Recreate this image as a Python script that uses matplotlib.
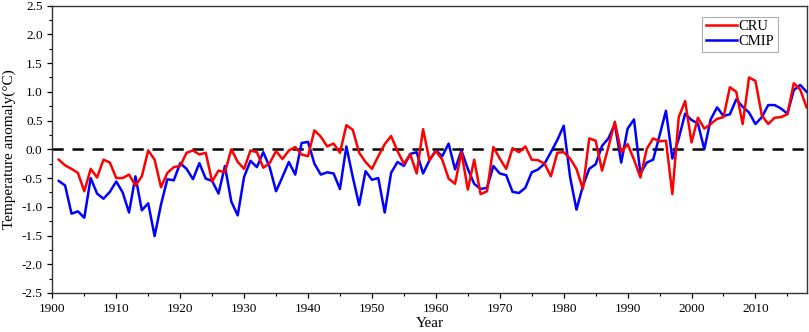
import matplotlib
matplotlib.use("Agg")
import matplotlib.pyplot as plt
from matplotlib.ticker import MultipleLocator

plt.rcParams['font.family'] = ['Liberation Serif', 'DejaVu Serif']

years = list(range(1901, 2019))

cru = [
    -0.18, -0.28, -0.34, -0.41, -0.73, -0.34, -0.49, -0.18, -0.23, -0.50,
    -0.50, -0.44, -0.63, -0.47, -0.02, -0.18, -0.66, -0.41, -0.31, -0.29,
    -0.06, -0.02, -0.09, -0.06, -0.56, -0.37, -0.40, 0.00, -0.22, -0.34,
    -0.02, -0.05, -0.32, -0.24, -0.03, -0.17, -0.02, 0.04, -0.09, -0.12,
    0.33, 0.22, 0.05, 0.10, -0.06, 0.42, 0.34, -0.06, -0.22, -0.34,
    -0.12, 0.09, 0.23, -0.03, -0.25, -0.09, -0.42, 0.35, -0.19, -0.03,
    -0.18, -0.51, -0.60, -0.05, -0.70, -0.18, -0.78, -0.73, 0.04, -0.16,
    -0.34, 0.02, -0.05, 0.05, -0.18, -0.19, -0.25, -0.47, -0.06, -0.05,
    -0.16, -0.34, -0.69, 0.19, 0.15, -0.37, 0.04, 0.48, -0.05, 0.09,
    -0.18, -0.49, 0.01, 0.19, 0.14, 0.15, -0.78, 0.56, 0.84, 0.12,
    0.55, 0.36, 0.44, 0.53, 0.56, 1.08, 1.00, 0.44, 1.25, 1.19,
    0.59, 0.44, 0.55, 0.56, 0.61, 1.15, 1.04, 0.73,
]

cmip = [
    -0.55, -0.63, -1.12, -1.08, -1.19, -0.50, -0.77, -0.86, -0.74, -0.56,
    -0.75, -1.10, -0.47, -1.06, -0.94, -1.51, -0.96, -0.52, -0.54, -0.24,
    -0.34, -0.52, -0.24, -0.51, -0.55, -0.77, -0.29, -0.91, -1.15, -0.48,
    -0.20, -0.31, -0.05, -0.31, -0.73, -0.48, -0.22, -0.44, 0.11, 0.13,
    -0.25, -0.44, -0.40, -0.42, -0.69, 0.05, -0.48, -0.97, -0.38, -0.53,
    -0.50, -1.10, -0.41, -0.22, -0.29, -0.08, -0.05, -0.42, -0.19, -0.02,
    -0.12, 0.10, -0.35, -0.02, -0.34, -0.60, -0.69, -0.67, -0.29, -0.42,
    -0.45, -0.74, -0.76, -0.67, -0.40, -0.35, -0.25, -0.05, 0.16, 0.41,
    -0.48, -1.05, -0.64, -0.34, -0.26, 0.06, 0.19, 0.44, -0.23, 0.36,
    0.52, -0.42, -0.23, -0.18, 0.24, 0.67, -0.16, 0.19, 0.62, 0.51,
    0.45, 0.00, 0.52, 0.73, 0.58, 0.61, 0.87, 0.74, 0.64, 0.44,
    0.56, 0.77, 0.77, 0.71, 0.62, 1.03, 1.12, 1.00,
]

fig = plt.figure(figsize=(8.09, 3.32), dpi=100)
ax = fig.add_axes([0.0647, 0.1175, 0.9323, 0.8655])

ax.axhline(0, color='black', lw=1.8, ls=(0, (4.5, 3.5)), zorder=1)
ax.plot(years, cru, color='#ff0000', lw=1.8, label='CRU', zorder=3)
ax.plot(years, cmip, color='#0000ff', lw=1.8, label='CMIP', zorder=2)

ax.set_xlim(1900, 2018)
ax.set_ylim(-2.5, 2.5)
ax.xaxis.set_major_locator(MultipleLocator(10))
ax.xaxis.set_minor_locator(MultipleLocator(5))
ax.yaxis.set_major_locator(MultipleLocator(0.5))
ax.yaxis.set_minor_locator(MultipleLocator(0.25))
ax.yaxis.set_major_formatter(matplotlib.ticker.FormatStrFormatter('%.1f'))
ax.tick_params(which='major', direction='out', length=3.5, width=0.9, labelsize=9.5)
ax.tick_params(which='minor', direction='out', length=2, width=0.8)

for s in ax.spines.values():
    s.set_linewidth(1.0)
    s.set_color('#333333')

ax.set_xlabel('Year', fontsize=11, labelpad=2)
ax.set_ylabel('Temperature anomaly(\u00b0C)', fontsize=11, labelpad=4)

leg = ax.legend(loc='upper right', bbox_to_anchor=(0.9616, 0.962), fontsize=10.5,
                frameon=True, fancybox=False, handlelength=2.1, handletextpad=0.1,
                borderpad=0.25, labelspacing=0.1, borderaxespad=0.0)
leg.get_frame().set_edgecolor('#999999')
leg.get_frame().set_linewidth(0.8)

fig.savefig('out.png', dpi=100)
